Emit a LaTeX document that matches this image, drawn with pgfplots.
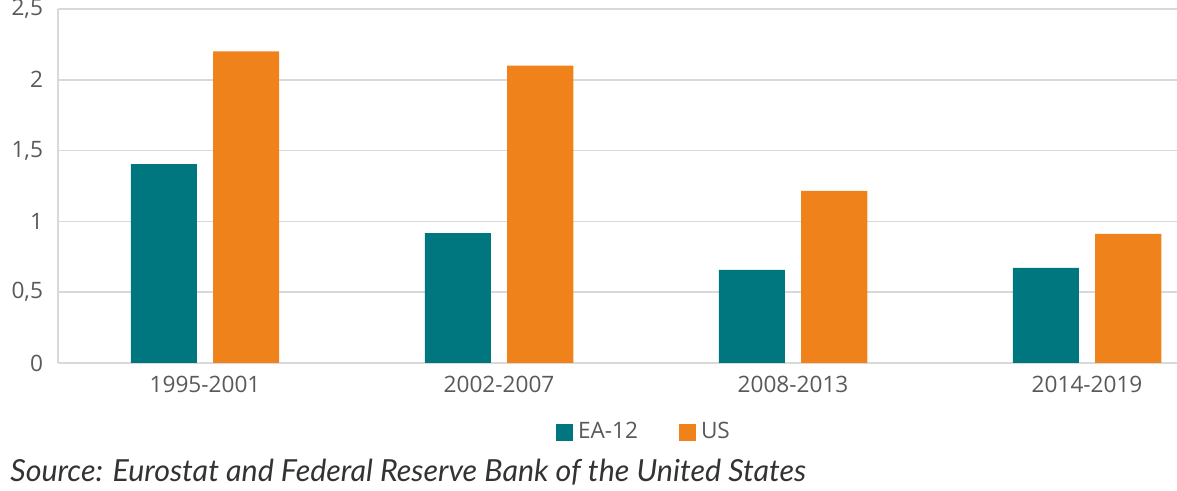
\documentclass[border=0pt]{standalone}
\usepackage{pgfplots}
\pgfplotsset{compat=1.18}
\usepackage{fontspec}
\setmainfont{Open Sans}
\newfontfamily\srcfont{Lato}
\definecolor{eateal}{HTML}{00777F}
\definecolor{usorange}{HTML}{F0821B}
\definecolor{gridgray}{HTML}{D9D9D9}
\definecolor{ticktext}{HTML}{595959}
\begin{document}
\begin{tikzpicture}
% 1 px of the reference = 0.5pt
\path[use as bounding box] (0,0) rectangle (588.5pt,245.5pt);
\begin{axis}[
    at={(29pt,64pt)}, anchor=south west,
    scale only axis,
    width=559.5pt, height=177pt,
    ybar, bar width=0.225, bar shift auto=false,
    xmin=-0.5, xmax=3.306,
    ymin=0, ymax=2.5,
    ytick={0,0.5,1,1.5,2,2.5},
    yticklabels={0,{0,5},1,{1,5},2,{2,5}},
    xtick={0,1,2,3},
    xticklabels={1995-2001,2002-2007,2008-2013,2014-2019},
    ymajorgrids, grid style={gridgray, line width=0.75pt},
    axis line style={draw=none},
    axis y line*=left, axis x line*=bottom,
    major tick length=0pt,
    tick label style={font=\fontsize{11.3}{13}\selectfont, text=ticktext},
    yticklabel style={xshift=-4pt},
    xticklabel style={yshift=-3pt},
    clip=false,
    legend style={at={(0.525,-0.195)}, anchor=center, draw=none,
        legend columns=2, font=\fontsize{11.3}{13}\selectfont, text=ticktext,
        nodes={inner xsep=2.5pt}},
    legend image code/.code={\fill[#1] (0pt,-4.25pt) rectangle (8.5pt,4.25pt);},
]
\addplot[fill=eateal, draw=none, bar shift=-0.14] coordinates {(0,1.405) (1,0.918) (2,0.657) (3,0.671)};
\addplot[fill=usorange, draw=none, bar shift=0.14] coordinates {(0,2.20) (1,2.10) (2,1.215) (3,0.911)};
\legend{EA-12\hspace*{18pt}, US}
\draw[gridgray, line width=0.75pt] (rel axis cs:0,0) -- (rel axis cs:0,1);
\end{axis}
\node[anchor=base west, inner sep=0pt, text=black!80, font=\srcfont\itshape\fontsize{15.2}{17}\selectfont] at (5pt,4.5pt) {Source: Eurostat and Federal Reserve Bank of the United States};
\end{tikzpicture}
\end{document}
